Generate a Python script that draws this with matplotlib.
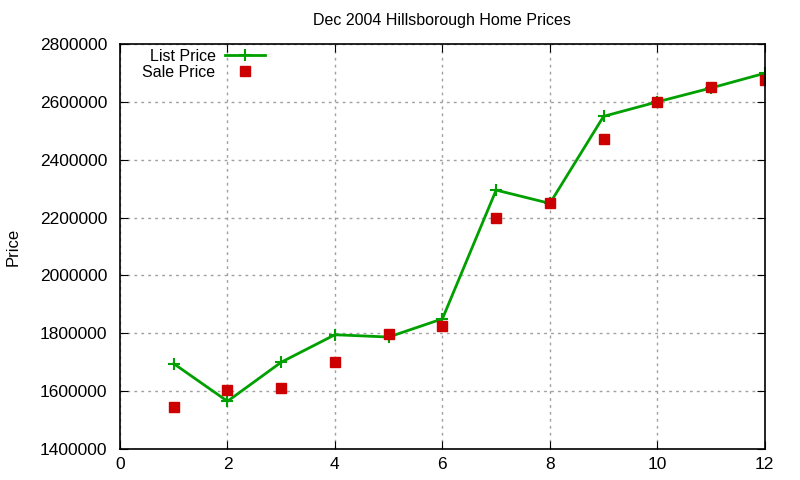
import matplotlib.pyplot as plt
import matplotlib.ticker as mticker

plt.rcParams['font.family'] = ['Liberation Sans', 'DejaVu Sans']

# data
months = [1, 2, 3, 4, 5, 6, 7, 8, 9, 10, 11, 12]
list_price = [1695000, 1565000, 1700000, 1795000, 1787000, 1850000,
              2295000, 2249000, 2550000, 2600000, 2648000, 2699000]
sale_price = [1545000, 1604000, 1611000, 1700000, 1797000, 1825000,
              2199000, 2249000, 2472000, 2600000, 2650000, 2676000]

fig = plt.figure(figsize=(8, 4.8), dpi=100)
ax = fig.add_axes([0.15, 0.0646, 0.806, 0.8437])

ax.plot(months, list_price, color='#00a000', lw=2, marker='+', ms=8, mew=1.5,
        label='List Price')
ax.plot(months, sale_price, color='#cc0000', ls='none', marker='s', ms=6.5,
        label='Sale Price')

ax.set_xlim(0, 12)
ax.set_ylim(1400000, 2800000)
ax.set_xticks(range(0, 13, 2))
ax.set_yticks(range(1400000, 2800001, 200000))
ax.yaxis.set_major_formatter(mticker.FuncFormatter(lambda v, p: f"{int(v)}"))

ax.grid(True, color='#a0a0a0', ls=(0, (2, 3)), lw=1)
ax.tick_params(direction='in', top=True, right=True, length=6, labelsize=12.5,
               colors='black')
ax.tick_params(axis='y', pad=9)
ax.tick_params(axis='x', pad=6)
for s in ax.spines.values():
    s.set_linewidth(1.2)

ax.set_title('Dec 2004 Hillsborough Home Prices', fontsize=11.5, pad=14)
ax.set_ylabel('Price', fontsize=12, labelpad=14)

ax.legend(loc='upper left', markerfirst=False, frameon=False, fontsize=11.5,
          handlelength=2.5, handletextpad=0.6, labelspacing=0.05,
          borderaxespad=0.2, bbox_to_anchor=(0.02, 1.012))

fig.savefig('out.png', dpi=100)
